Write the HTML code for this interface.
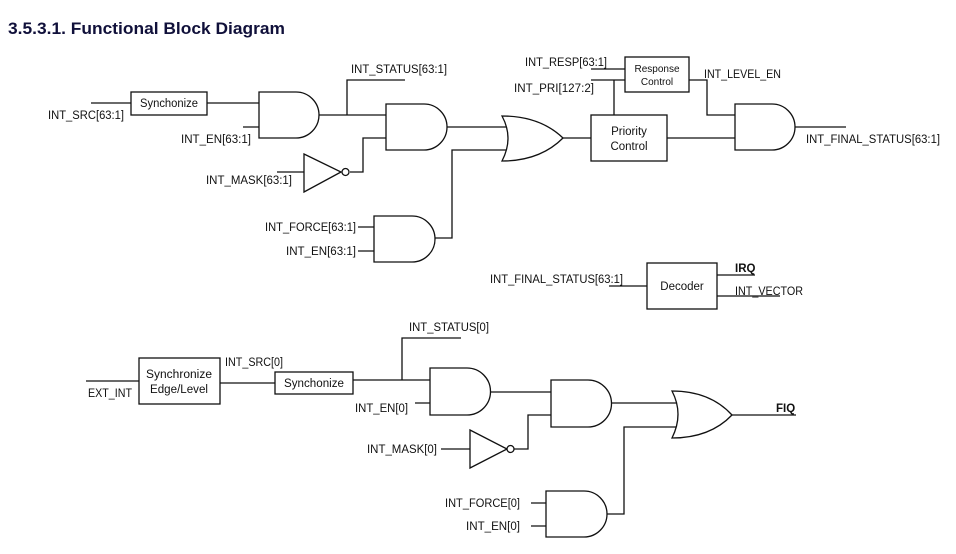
<!DOCTYPE html>
<html><head><meta charset="utf-8"><style>
html,body{margin:0;padding:0;background:#fff;}
svg{display:block;}
text{font-family:"Liberation Sans",sans-serif;font-size:11.5px;fill:#111;}
.g{fill:#fff;stroke:#111;stroke-width:1.3;}
.l{fill:none;stroke:#111;stroke-width:1.3;}
</style></head><body>
<svg width="956" height="554" viewBox="0 0 956 554" xmlns="http://www.w3.org/2000/svg">
<text x="8" y="34" style="font-size:17px;font-weight:bold;fill:#10103a" textLength="277" lengthAdjust="spacingAndGlyphs">3.5.3.1. Functional Block Diagram</text>

<!-- TOP -->
<path class="l" d="M91 103H131 M207 103H259 M243 127H259 M319 115H386 M347 115V80H405 M277 172H304 M350 172H363V138H386 M447 127H508 M435 238H452V150H510 M358 227H374 M358 251H374 M563 138H591 M667 138H735 M591 69H625 M591 80H625 M614 80V115 M689 80H707V115H735 M795 127H846 M609 286H647 M717 275H755 M717 296H780"/>
<rect class="g" x="131" y="92" width="76" height="23"/>
<text x="140" y="107" textLength="58" lengthAdjust="spacingAndGlyphs">Synchonize</text>
<path class="g" d="M259 92H296A23 23 0 0 1 296 138H259Z"/>
<path class="g" d="M386 104H424A23 23 0 0 1 424 150H386Z"/>
<path class="g" d="M374 216H412A23 23 0 0 1 412 262H374Z"/>
<path class="g" d="M735 104H772A23 23 0 0 1 772 150H735Z"/>
<path class="g" d="M304 154L341 172L304 192Z"/>
<circle class="g" cx="345.5" cy="172" r="3.5"/>
<path class="g" d="M502 116Q514 138 502 161Q540 161 563 138Q540 116 502 116Z"/>
<rect class="g" x="591" y="115" width="76" height="46"/>
<text x="629" y="135" text-anchor="middle">Priority</text>
<text x="629" y="150" text-anchor="middle">Control</text>
<rect class="g" x="625" y="57" width="64" height="35"/>
<text x="657" y="72" text-anchor="middle" style="font-size:10px">Response</text>
<text x="657" y="85" text-anchor="middle" style="font-size:10px">Control</text>
<rect class="g" x="647" y="263" width="70" height="46"/>
<text x="682" y="290" text-anchor="middle">Decoder</text>

<text x="48" y="119" textLength="76" lengthAdjust="spacingAndGlyphs">INT_SRC[63:1]</text>
<text x="181" y="143" textLength="70" lengthAdjust="spacingAndGlyphs">INT_EN[63:1]</text>
<text x="351" y="73" textLength="96" lengthAdjust="spacingAndGlyphs">INT_STATUS[63:1]</text>
<text x="206" y="184" textLength="86" lengthAdjust="spacingAndGlyphs">INT_MASK[63:1]</text>
<text x="265" y="231" textLength="91" lengthAdjust="spacingAndGlyphs">INT_FORCE[63:1]</text>
<text x="286" y="255" textLength="70" lengthAdjust="spacingAndGlyphs">INT_EN[63:1]</text>
<text x="525" y="66" textLength="82" lengthAdjust="spacingAndGlyphs">INT_RESP[63:1]</text>
<text x="514" y="92" textLength="80" lengthAdjust="spacingAndGlyphs">INT_PRI[127:2]</text>
<text x="704" y="78" textLength="77" lengthAdjust="spacingAndGlyphs">INT_LEVEL_EN</text>
<text x="806" y="143" textLength="134" lengthAdjust="spacingAndGlyphs">INT_FINAL_STATUS[63:1]</text>
<text x="490" y="283" textLength="133" lengthAdjust="spacingAndGlyphs">INT_FINAL_STATUS[63:1]</text>
<text x="735" y="272" style="font-weight:bold">IRQ</text>
<text x="735" y="295" textLength="68" lengthAdjust="spacingAndGlyphs">INT_VECTOR</text>

<!-- BOTTOM -->
<path class="l" d="M86 381H139 M220 383H275 M353 380H430 M402 380V338H461 M415 403H430 M490 392H551 M441 449H470 M514 449H528V415H551 M611 403H678 M607 514H624V427H678 M531 503H546 M531 526H546 M732 415H796"/>
<rect class="g" x="139" y="358" width="81" height="46"/>
<text x="179" y="378" text-anchor="middle" textLength="66" lengthAdjust="spacingAndGlyphs">Synchronize</text>
<text x="179" y="393" text-anchor="middle" textLength="58" lengthAdjust="spacingAndGlyphs">Edge/Level</text>
<rect class="g" x="275" y="372" width="78" height="22"/>
<text x="284" y="387" textLength="60" lengthAdjust="spacingAndGlyphs">Synchonize</text>
<path class="g" d="M430 368H467A23.5 23.5 0 0 1 467 415H430Z"/>
<path class="g" d="M551 380H588A23.5 23.5 0 0 1 588 427H551Z"/>
<path class="g" d="M546 491H584A23 23 0 0 1 584 537H546Z"/>
<path class="g" d="M470 430L507 449L470 468Z"/>
<circle class="g" cx="510.5" cy="449" r="3.5"/>
<path class="g" d="M672 391Q684 414 672 438Q710 438 732 415Q710 391 672 391Z"/>

<text x="88" y="397" textLength="44" lengthAdjust="spacingAndGlyphs">EXT_INT</text>
<text x="225" y="366" textLength="58" lengthAdjust="spacingAndGlyphs">INT_SRC[0]</text>
<text x="409" y="331" textLength="80" lengthAdjust="spacingAndGlyphs">INT_STATUS[0]</text>
<text x="355" y="412" textLength="53" lengthAdjust="spacingAndGlyphs">INT_EN[0]</text>
<text x="367" y="453" textLength="70" lengthAdjust="spacingAndGlyphs">INT_MASK[0]</text>
<text x="445" y="507" textLength="75" lengthAdjust="spacingAndGlyphs">INT_FORCE[0]</text>
<text x="466" y="530" textLength="54" lengthAdjust="spacingAndGlyphs">INT_EN[0]</text>
<text x="776" y="412" style="font-weight:bold">FIQ</text>
</svg>
</body></html>
